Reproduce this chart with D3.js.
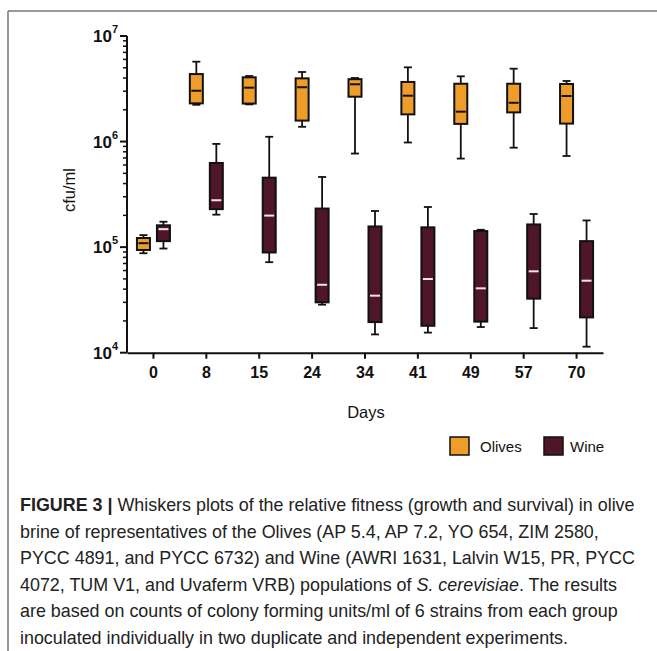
<!DOCTYPE html>
<html>
<head>
<meta charset="utf-8">
<script src="https://cdn.jsdelivr.net/npm/d3@7"></script>
<style>
  body { margin: 0; background: #fff; }
  svg text { font-family: "Liberation Sans", Arial, sans-serif; }
</style>
</head>
<body>
<div id="chart"></div>
<script>
// Days sampled
var days = ["0", "8", "15", "24", "34", "41", "49", "57", "70"];

// Olives: whisker low, q1, median, q3, whisker high per day
var olivesMin = [8.75e4, 2.23e6, 2.25e6, 1.38e6, 7.7e5, 9.8e5, 6.9e5, 8.75e5, 7.3e5];
var olivesQ1  = [9.4e4, 2.30e6, 2.29e6, 1.58e6, 2.66e6, 1.81e6, 1.47e6, 1.89e6, 1.48e6];
var olivesMed = [1.09e5, 3.03e6, 3.24e6, 3.27e6, 3.49e6, 2.72e6, 1.92e6, 2.33e6, 2.70e6];
var olivesQ3  = [1.22e5, 4.36e6, 4.06e6, 3.97e6, 3.90e6, 3.67e6, 3.53e6, 3.53e6, 3.51e6];
var olivesMax = [1.30e5, 5.71e6, 4.18e6, 4.56e6, 4.00e6, 5.05e6, 4.15e6, 4.90e6, 3.75e6];

// Wine
var wineMin = [9.7e4, 2.03e5, 7.2e4, 2.85e4, 1.49e4, 1.55e4, 1.75e4, 1.71e4, 1.14e4];
var wineQ1  = [1.14e5, 2.29e5, 8.9e4, 3.0e4, 1.95e4, 1.80e4, 1.97e4, 3.25e4, 2.16e4];
var wineMed = [1.48e5, 2.78e5, 1.99e5, 4.4e4, 3.47e4, 4.99e4, 4.07e4, 5.9e4, 4.81e4];
var wineQ3  = [1.61e5, 6.27e5, 4.55e5, 2.32e5, 1.57e5, 1.54e5, 1.42e5, 1.64e5, 1.14e5];
var wineMax = [1.74e5, 9.5e5, 1.11e6, 4.62e5, 2.20e5, 2.40e5, 1.46e5, 2.06e5, 1.79e5];

var yTicks = [1e4, 1e5, 1e6, 1e7];
var yExponents = ["4", "5", "6", "7"];

var w = 657;
var h = 651;
var olive = "#EE9D2B";
var wine = "#4F1528";

var svg = d3.select("#chart").append("svg")
    .attr("width", w)
    .attr("height", h);

// Figure frame (top and left rules)
svg.append("line").attr("x1", 8).attr("x2", w).attr("y1", 11).attr("y2", 11)
    .attr("stroke", "#777").attr("stroke-width", 1.5);
svg.append("line").attr("x1", 8).attr("x2", 8).attr("y1", 11).attr("y2", h)
    .attr("stroke", "#777").attr("stroke-width", 1.5);

var xScale = d3.scaleBand()
    .domain(days)
    .range([127, 603]);

var yScale = d3.scaleLog()
    .domain([1e4, 1e7])
    .range([352.7, 36]);

// Y axis: major + minor log ticks
var yAxisG = svg.append("g").attr("transform", "translate(127,0)");
yAxisG.append("line").attr("x1", 0).attr("x2", 0)
    .attr("y1", yScale(1e7)).attr("y2", yScale(1e4))
    .attr("stroke", "#111").attr("stroke-width", 2);

var minor = [];
for (var e = 4; e < 7; e++) {
    for (var m = 2; m <= 9; m++) minor.push(m * Math.pow(10, e));
}
yAxisG.selectAll("line.minor").data(minor).enter().append("line")
    .attr("class", "minor")
    .attr("x1", -4).attr("x2", 0)
    .attr("y1", d => yScale(d)).attr("y2", d => yScale(d))
    .attr("stroke", "#111").attr("stroke-width", 1.5);
yAxisG.selectAll("line.major").data(yTicks).enter().append("line")
    .attr("class", "major")
    .attr("x1", -7).attr("x2", 0)
    .attr("y1", d => yScale(d)).attr("y2", d => yScale(d))
    .attr("stroke", "#111").attr("stroke-width", 2);

var yLabels = yAxisG.selectAll("text.ylab").data(yTicks).enter().append("text")
    .attr("class", "ylab")
    .attr("x", -9)
    .attr("y", d => yScale(d) + 6)
    .attr("text-anchor", "end")
    .attr("font-weight", "bold")
    .attr("font-size", 17)
    .attr("fill", "#111");
yLabels.append("tspan").text("10");
yLabels.append("tspan")
    .attr("dy", -9)
    .attr("font-size", 11)
    .text((d, i) => yExponents[i]);

// X axis
var xAxis = d3.axisBottom(xScale).tickSize(6).tickSizeOuter(0);
var xAxisG = svg.append("g")
    .attr("transform", "translate(0,352.7)")
    .call(xAxis);
xAxisG.select(".domain").attr("stroke", "#111").attr("stroke-width", 2);
xAxisG.selectAll(".tick line").attr("stroke", "#111").attr("stroke-width", 2);
xAxisG.selectAll(".tick text")
    .attr("font-family", "'Liberation Sans', Arial, sans-serif")
    .attr("font-size", 16)
    .attr("font-weight", "bold")
    .attr("fill", "#111")
    .attr("dy", "1.05em");

// Axis titles
svg.append("text")
    .attr("x", 366).attr("y", 418)
    .attr("text-anchor", "middle")
    .attr("font-size", 16.5)
    .attr("fill", "#111")
    .text("Days");

svg.append("text")
    .attr("transform", "translate(75,190) rotate(-90)")
    .attr("text-anchor", "middle")
    .attr("font-size", 16.5)
    .attr("fill", "#111")
    .text("cfu/ml");

// Build box data
function buildSeries(name, mins, q1s, meds, q3s, maxs, offset, fill, medColor) {
    return days.map(function(d, i) {
        return { day: d, min: mins[i], q1: q1s[i], med: meds[i], q3: q3s[i], max: maxs[i],
                 offset: offset, fill: fill, medColor: medColor, name: name };
    });
}

var series = [
    buildSeries("Olives", olivesMin, olivesQ1, olivesMed, olivesQ3, olivesMax, -10, olive, "#111"),
    buildSeries("Wine", wineMin, wineQ1, wineMed, wineQ3, wineMax, 10, wine, "#F4E6E6")
];

var boxW = 13;
var capW = 8;

series.forEach(function(s) {
    var g = svg.append("g");
    var boxes = g.selectAll("g.box").data(s).enter().append("g")
        .attr("class", "box")
        .attr("transform", d => "translate(" + (xScale(d.day) + xScale.bandwidth() / 2 + d.offset) + ",0)");

    // whiskers
    boxes.append("line")
        .attr("x1", 0).attr("x2", 0)
        .attr("y1", d => yScale(d.max)).attr("y2", d => yScale(d.min))
        .attr("stroke", "#111").attr("stroke-width", 1.8);
    boxes.append("line")
        .attr("x1", -capW / 2).attr("x2", capW / 2)
        .attr("y1", d => yScale(d.max)).attr("y2", d => yScale(d.max))
        .attr("stroke", "#111").attr("stroke-width", 1.8);
    boxes.append("line")
        .attr("x1", -capW / 2).attr("x2", capW / 2)
        .attr("y1", d => yScale(d.min)).attr("y2", d => yScale(d.min))
        .attr("stroke", "#111").attr("stroke-width", 1.8);

    // box
    boxes.append("rect")
        .attr("x", -boxW / 2)
        .attr("width", boxW)
        .attr("y", d => yScale(d.q3))
        .attr("height", d => yScale(d.q1) - yScale(d.q3))
        .attr("fill", d => d.fill)
        .attr("stroke", "#111")
        .attr("stroke-width", 2);

    // median
    boxes.append("line")
        .attr("x1", -boxW / 2 + 1.5).attr("x2", boxW / 2 - 1.5)
        .attr("y1", d => yScale(d.med)).attr("y2", d => yScale(d.med))
        .attr("stroke", d => d.medColor)
        .attr("stroke-width", 2);
});

// Legend
var legendItems = [
    { name: "Olives", fill: olive, x: 450, gap: 30 },
    { name: "Wine", fill: wine, x: 544, gap: 26 }
];
var legend = svg.selectAll("g.legend").data(legendItems).enter().append("g")
    .attr("class", "legend")
    .attr("transform", d => "translate(" + d.x + ",437)");
legend.append("rect")
    .attr("width", 19).attr("height", 18)
    .attr("fill", d => d.fill)
    .attr("stroke", "#111").attr("stroke-width", 1.5);
legend.append("text")
    .attr("x", d => d.gap)
    .attr("y", 15)
    .attr("font-size", 15)
    .attr("fill", "#111")
    .text(d => d.name);

// Caption
var captionLines = [
    [["FIGURE 3 | ", "b"], ["Whiskers plots of the relative fitness (growth and survival) in olive", ""]],
    [["brine of representatives of the Olives (AP 5.4, AP 7.2, YO 654, ZIM 2580,", ""]],
    [["PYCC 4891, and PYCC 6732) and Wine (AWRI 1631, Lalvin W15, PR, PYCC", ""]],
    [["4072, TUM V1, and Uvaferm VRB) populations of ", ""], ["S. cerevisiae", "i"], [". The results", ""]],
    [["are based on counts of colony forming units/ml of 6 strains from each group", ""]],
    [["inoculated individually in two duplicate and independent experiments.", ""]]
];
var caption = svg.append("g")
    .attr("font-family", "Roboto, 'Liberation Sans', sans-serif")
    .attr("font-size", 17.9)
    .attr("font-weight", 300)
    .attr("fill", "#222");
captionLines.forEach(function(parts, i) {
    var t = caption.append("text")
        .attr("x", 20)
        .attr("y", 511 + i * 26.5);
    parts.forEach(function(p) {
        var span = t.append("tspan").text(p[0]);
        if (p[1] === "b") span.attr("font-weight", "bold");
        if (p[1] === "i") span.attr("font-style", "italic");
    });
});
</script>
</body>
</html>
